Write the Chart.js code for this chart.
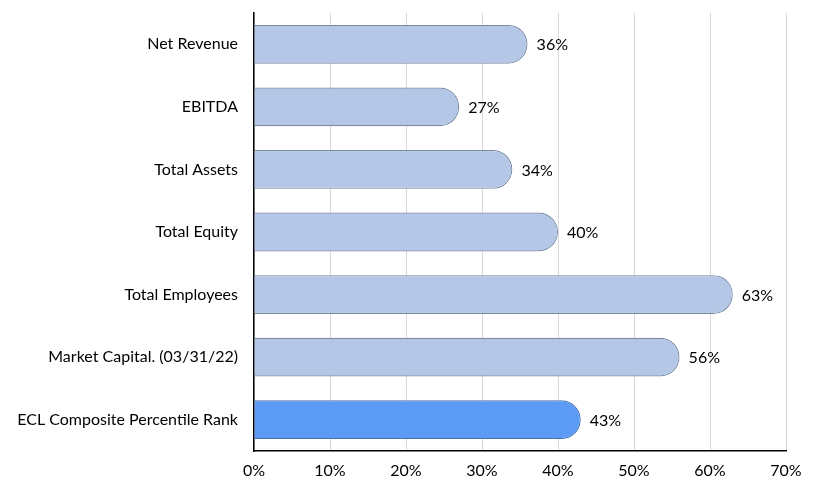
<!DOCTYPE html>
<html><head><meta charset="utf-8">
<script src="https://cdn.jsdelivr.net/npm/chart.js@4/dist/chart.umd.min.js"></script>
<style>html,body{margin:0;padding:0;background:#fff;}#wrap{width:822px;height:489px;}</style>
</head><body><div id="wrap"><canvas id="c" width="822" height="489"></canvas></div>
<script>
const categories = ["Net Revenue","EBITDA","Total Assets","Total Equity","Total Employees","Market Capital. (03/31/22)","ECL Composite Percentile Rank"];
const values = [36,27,34,40,63,56,43];
const highlight = [false,false,false,false,false,false,true];
const xTicks = [0,10,20,30,40,50,60,70];
const FONT = 'Lato, "Open Sans", sans-serif';

function grad(ctx, isHi){
  const chart = ctx.chart; const el = ctx.element;
  if(!chart.chartArea || !el || el.y === undefined) return isHi ? '#5B9BF5' : '#B4C7E7';
  const h = el.height || 38; const top = el.y - h/2;
  const g = chart.ctx.createLinearGradient(0, top, 0, top + h);
  if(isHi){ g.addColorStop(0,'#5A95EE'); g.addColorStop(0.3,'#6BA7FB'); g.addColorStop(0.7,'#5E9BF6'); g.addColorStop(1,'#4F8BE8'); }
  else { g.addColorStop(0,'#A4B9DC'); g.addColorStop(0.3,'#BCCEEC'); g.addColorStop(0.7,'#B2C5E6'); g.addColorStop(1,'#A3B7DA'); }
  return g;
}

const labelPlugin = {
  id:'vals',
  afterDatasetsDraw(chart){
    const c = chart.ctx; const meta = chart.getDatasetMeta(0);
    c.save(); c.font = '16px ' + FONT; c.fillStyle = '#000'; c.textBaseline='middle'; c.textAlign='left';
    meta.data.forEach((b,i)=>{ c.fillText(values[i]+'%', b.x + 9, b.y + 1); });
    c.restore();
  }
};

new Chart(document.getElementById('c'), {
  type:'bar',
  data:{ labels: categories, datasets:[{ data: values,
    backgroundColor: ctx => grad(ctx, highlight[ctx.dataIndex]),
    borderColor: ctx => highlight[ctx.dataIndex] ? '#4272B0' : '#7A8AA6',
    borderWidth: 1.2,
    borderSkipped: 'start',
    borderRadius: {topLeft:0,bottomLeft:0,topRight:19,bottomRight:19},
    categoryPercentage: 1, barPercentage: 0.62 }]},
  plugins:[labelPlugin],
  options:{
    indexAxis:'y', responsive:false, animation:false,
    layout:{ padding:{ top:13, right:36, left:0, bottom:0 } },
    plugins:{ legend:{display:false}, tooltip:{enabled:false} },
    scales:{
      x:{ min:0, max:70, afterBuildTicks: s => { s.ticks = xTicks.map(v=>({value:v})); },
        grid:{ color:'#D9D9D9', lineWidth:1, drawTicks:false },
        border:{ display:true, color:'#000', width:1.5 },
        ticks:{ color:'#000', font:{ size:16, family:FONT }, padding:10, callback: v => v + '%' , maxRotation:0 },
        afterFit: s => { s.height = 38; s.paddingLeft = 0; s.paddingRight = 0; } },
      y:{ grid:{ display:false, drawTicks:false },
        border:{ display:true, color:'#000', width:1.5 },
        ticks:{ color:'#000', font:{ size:16, family:FONT }, padding:16 },
        afterFit: s => { s.width = 254; s.paddingTop = 0; s.paddingBottom = 0; } }
    }
  }
});
</script></body></html>
